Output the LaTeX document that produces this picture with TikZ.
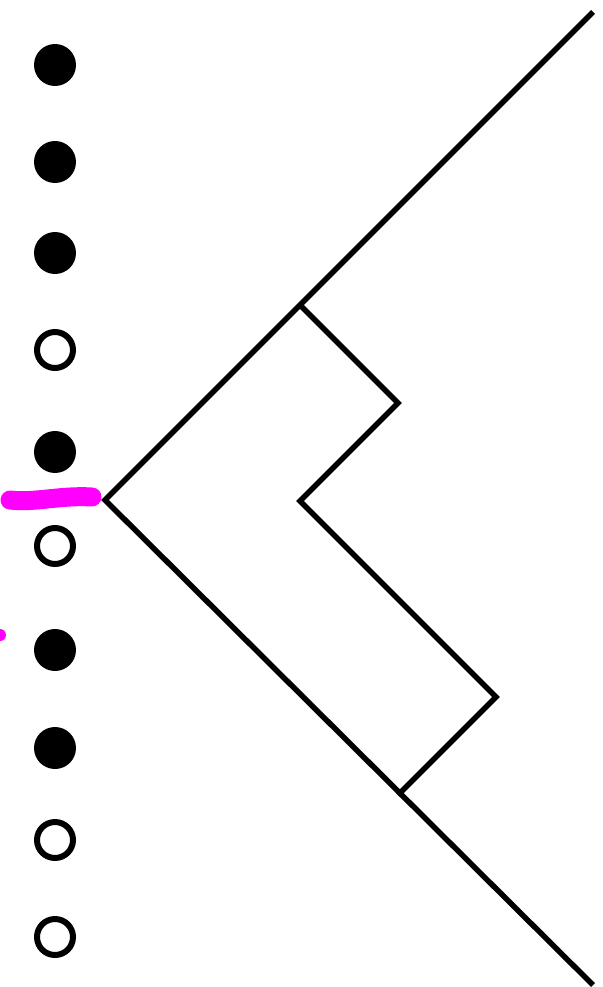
\documentclass[tikz,border=0pt]{standalone}
\usepackage{tikz}
\usetikzlibrary{calc}
\definecolor{cink}{HTML}{000000}
\definecolor{cmark}{HTML}{FF00FF}

\begin{document}
\begin{tikzpicture}[
  x=0.02cm, y=-0.02cm,
  full/.style={
    circle, fill=cink, draw=none,
    minimum size=0.84cm, inner sep=0pt
  },
  hollow/.style={
    circle, draw=cink, fill=white,
    line width=0.12cm, minimum size=0.72cm, inner sep=0pt
  },
  edge/.style={draw=cink, line width=0.11cm, line join=miter},
  scribble/.style={draw=cmark, line width=0.38cm, line cap=round, line join=round}
]
\useasboundingbox (0,0) rectangle (602,987);

% ============================================================
% Left column: the ten beads
\node[full]   (b1)  at (55, 65)  {};
\node[full]   (b2)  at (55, 162) {};
\node[full]   (b3)  at (55, 253) {};
\node[hollow] (b4)  at (55, 350) {};
\node[full]   (b5)  at (55, 452) {};
\node[hollow] (b6)  at (55, 546) {};
\node[full]   (b7)  at (55, 650) {};
\node[full]   (b8)  at (55, 748) {};
\node[hollow] (b9)  at (55, 840) {};
\node[hollow] (b10) at (55, 937) {};

% ============================================================
% Right side: the outer wedge and the inner zigzag
\coordinate (top)  at (593, 12);
\coordinate (tip)  at (105, 500);
\coordinate (bot)  at (593, 985);
\coordinate (z1)   at (300, 305);
\coordinate (z2)   at (398, 403);
\coordinate (z3)   at (300, 501);
\coordinate (z4)   at (496, 697);
\coordinate (z5)   at (398, 795);

\draw[edge] (top) -- (tip) -- (bot);
\draw[edge] (z1) -- (z2) -- (z3) -- (z4) -- (z5);

% Pink marks on the left edge
\coordinate (m1) at (10, 500);
\coordinate (m2) at (92, 497);
\draw[scribble] (m1) .. controls (35, 503) and (60, 495) .. (m2);
\fill[cmark] (0, 635) circle (6);

\end{tikzpicture}
\end{document}
